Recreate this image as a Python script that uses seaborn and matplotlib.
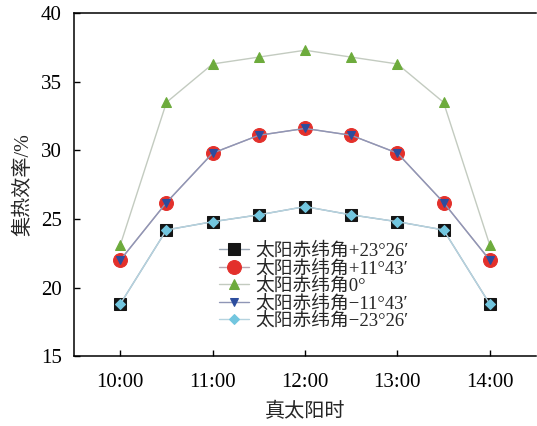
import matplotlib
matplotlib.use("Agg")
import matplotlib.pyplot as plt
import seaborn as sns
import pandas as pd

sns.set_theme(style="ticks")
plt.rcParams['font.family'] = ['Liberation Serif', 'Noto Sans CJK SC']
plt.rcParams['axes.unicode_minus'] = False

# ----------------------------
#  Datos
# ----------------------------
hours = [10, 10.5, 11, 11.5, 12, 12.5, 13, 13.5, 14]
tick_pos = [10, 11, 12, 13, 14]
tick_labels = ["10:00", "11:00", "12:00", "13:00", "14:00"]

eff_p2326 = [18.8, 24.2, 24.8, 25.3, 25.9, 25.3, 24.8, 24.2, 18.8]
eff_p1143 = [22.0, 26.2, 29.8, 31.1, 31.6, 31.1, 29.8, 26.2, 22.0]
eff_0 = [23.1, 33.5, 36.3, 36.8, 37.3, 36.8, 36.3, 33.5, 23.1]
eff_m1143 = [22.0, 26.2, 29.8, 31.1, 31.6, 31.1, 29.8, 26.2, 22.0]
eff_m2326 = [18.8, 24.2, 24.8, 25.3, 25.9, 25.3, 24.8, 24.2, 18.8]

labels = ["太阳赤纬角+23°26′", "太阳赤纬角+11°43′", "太阳赤纬角0°",
          "太阳赤纬角\u221211°43′", "太阳赤纬角\u221223°26′"]

series = [
    # (valores, marcador, color marcador, color línea, tamaño)
    (eff_p2326, "s", "#151515", "#9aa6b4", 8.5),
    (eff_p1143, "o", "#e3302b", "#b9a6b0", 10),
    (eff_0, "^", "#6dab3c", "#c3cbc0", 7.5),
    (eff_m1143, "v", "#2c4d9e", "#8f96b6", 6),
    (eff_m2326, "D", "#72c6df", "#b5d3df", 5),
]

fig = plt.figure(figsize=(5.37, 4.26), dpi=100)
ax = fig.add_axes([0.138, 0.164, 0.860, 0.805])

for (vals, mk, mcol, lcol, ms), lab in zip(series, labels):
    df = pd.DataFrame({"hora": hours, "eff": vals})
    sns.lineplot(data=df, x="hora", y="eff", ax=ax, color=lcol, lw=1.0,
                 marker=mk, markersize=ms, markerfacecolor=mcol,
                 markeredgecolor=mcol, label=lab)

ax.set_xlim(9.5, 14.5)
ax.set_ylim(15, 40)
ax.set_xticks(tick_pos)
ax.set_xticklabels(tick_labels)
ax.set_yticks([15, 20, 25, 30, 35, 40])
ax.tick_params(direction="in", length=4, width=1, labelsize=15, colors="black")
ax.tick_params(axis="x", pad=12)
ax.tick_params(axis="y", pad=9)
for s in ["left", "bottom", "top"]:
    ax.spines[s].set_linewidth(1.1)
    ax.spines[s].set_color("black")
ax.spines["right"].set_visible(False)

ax.set_xlabel("真太阳时", fontsize=14.5, labelpad=8)
ax.set_ylabel("集热效率/%", fontsize=14.5, labelpad=5)

ax.legend(loc="upper left", bbox_to_anchor=(0.29, 0.365), frameon=False,
          fontsize=13.5, handlelength=1.6, handletextpad=0.3,
          labelspacing=0.0, borderpad=0.1)

fig.savefig("out.png", dpi=100)
